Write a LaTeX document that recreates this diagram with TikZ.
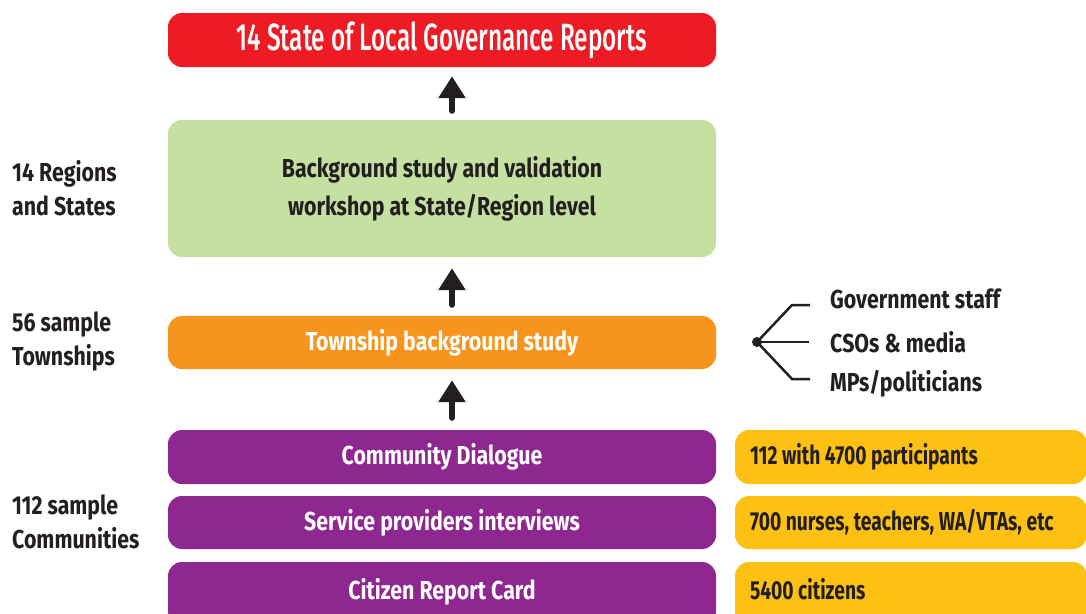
\documentclass[tikz,border=0pt]{standalone}
\usepackage{fontspec}
\setmainfont[FakeStretch=0.82]{Fira Sans}
\newfontfamily\sidefont[FakeStretch=0.74]{Fira Sans}
\newfontfamily\titlefont[FakeStretch=0.64]{Fira Sans Medium}
\usetikzlibrary{arrows.meta}
\definecolor{cred}{HTML}{ED1C24}
\definecolor{cgreen}{HTML}{C5E0A0}
\definecolor{corange}{HTML}{F7941D}
\definecolor{cpurple}{HTML}{8E278F}
\definecolor{cyellow}{HTML}{FCC112}
\definecolor{cink}{HTML}{231F20}
\tikzset{
  box/.style={rounded corners=14pt, minimum width=548pt, inner sep=0pt, font=\fontsize{26}{38}\selectfont\bfseries, align=center},
  side/.style={rounded corners=14pt, minimum width=352pt, inner sep=0pt, fill=cyellow, text=cink, font=\fontsize{26}{36}\selectfont\sidefont\bfseries},
  lbl/.style={anchor=west, align=left, inner sep=0pt, text=cink, font=\fontsize{26}{34}\selectfont\bfseries},
  who/.style={anchor=west, inner sep=0pt, text=cink, font=\fontsize{26}{34}\selectfont\bfseries},
  uparrow/.style={-{Triangle[width=26pt,length=22pt]}, line width=6pt, line cap=round, draw=cink},
  fork/.style={line width=2.5pt, draw=cink}
}
\newcommand{\sidetext}[1]{\makebox[322pt][l]{#1}}
\begin{document}
\begin{tikzpicture}[x=1pt,y=-1pt]
\useasboundingbox (0,0) rectangle (1086,613);
\clip (0,0) rectangle (1086,613);
\node[box, fill=cred, text=white, minimum height=54pt, font=\fontsize{38}{40}\selectfont\titlefont] (rep) at (442,40) {14 State of Local Governance Reports};
\node[box, fill=cgreen, text=cink, minimum height=137pt] (bg) at (442,188.5) {Background study and validation\\workshop at State/Region level};
\node[box, fill=corange, text=white, minimum height=53pt] (tw) at (442,342.5) {Township background study};
\node[box, fill=cpurple, text=white, minimum height=54pt] (cd) at (442,457) {Community Dialogue};
\node[box, fill=cpurple, text=white, minimum height=53pt] (sp) at (442,522.5) {Service providers interviews};
\node[box, fill=cpurple, text=white, minimum height=63pt, text depth=0pt] (crc) at (442,593.5) {\raisebox{9pt}{Citizen Report Card}};
\node[side, minimum height=54pt] (y1) at (911,457) {\sidetext{112 with 4700 participants}};
\node[side, minimum height=53pt] (y2) at (911,522.5) {\sidetext{700 nurses, teachers, WA/VTAs, etc}};
\node[side, minimum height=63pt] (y3) at (911,593.5) {\raisebox{9pt}{\sidetext{5400 citizens}}};

\node[lbl] (l1) at (12,188) {14 Regions\\and States};
\node[lbl] (l2) at (12,342) {56 sample\\Townships};
\node[lbl] (l3) at (12,522) {112 sample\\Communities};

\draw[uparrow, shorten <=9pt, shorten >=9pt] ([xshift=10pt]bg.north) -- ([xshift=10pt]rep.south);
\draw[uparrow, shorten <=11pt, shorten >=11pt] ([xshift=10pt]tw.north) -- ([xshift=10pt]bg.south);
\draw[uparrow, shorten <=12pt, shorten >=11pt] ([xshift=10pt]cd.north) -- ([xshift=10pt]tw.south);

\node[who] (w1) at (830,299) {Government staff};
\node[who] (w2) at (830,342) {CSOs \& media};
\node[who] (w3) at (830,384) {MPs/politicians};
\coordinate (hub) at (757,342);
\coordinate (k1) at (792,305);
\coordinate (k3) at (792,379);
\coordinate (e1) at (810,305);
\coordinate (e2) at (809,342);
\coordinate (e3) at (810,379);
\draw[fork] (hub) -- (k1) -- (e1);
\draw[fork] (hub) -- (e2);
\draw[fork] (hub) -- (k3) -- (e3);
\fill[cink] (hub) circle (5pt);
\end{tikzpicture}
\end{document}
